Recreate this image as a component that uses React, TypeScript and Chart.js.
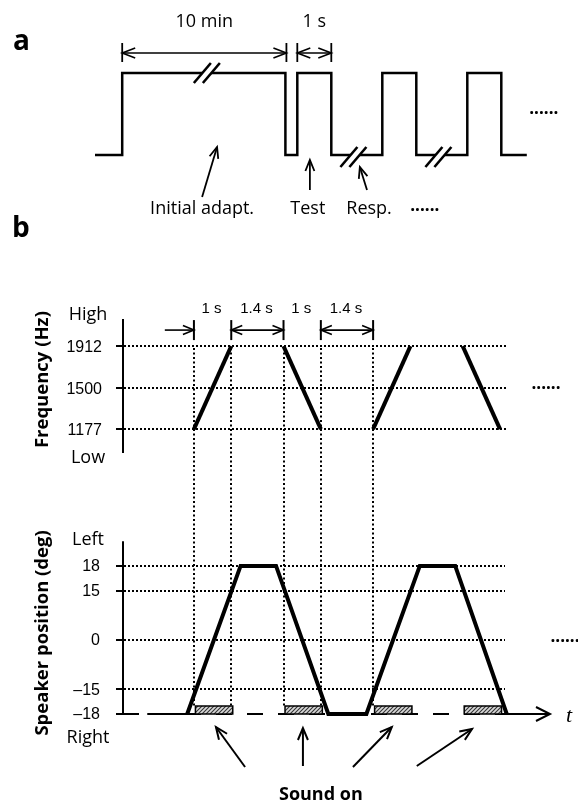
import React, { useEffect, useRef } from 'react';
import { Chart, registerables, LinearScale } from 'chart.js';

Chart.register(...registerables);

// ---------------- Panel a: protocol (schematic time units, test tone = 1 s) ----------------
const adaptTimes = [0, 0.8, 5.6, 5.95, 6.95, 8.45, 9.45, 10.95, 11.95, 12.7];
const adaptLevels = [0, 1, 0, 1, 0, 1, 0, 1, 0, 0];
const adaptDimStart = [0.8, 5.95];
const adaptDimEnd = [5.63, 6.95];
const adaptDimLabels = ['10 min', '1 s'];
const adaptTopBreaks = [3.29];
const adaptBaseBreaks = [7.6, 10.1];
const adaptLabels = ['Initial adapt.', 'Test', 'Resp.', '......'];
const adaptLabelTimes = [3.15, 6.26, 8.06, 9.7];

// ---------------- Panel b: frequency sweeps & speaker motion (time in s) ----------------
const freqTicks = [1912, 1500, 1177];
const freqAxisRange = [1023, 2240];
const sweepStart = [0, 2.4, 4.8, 7.2];
const sweepEnd = [1, 3.4, 5.8, 8.2];
const sweepFromHz = [1177, 1912, 1177, 1912];
const sweepToHz = [1912, 1177, 1912, 1177];

const posTicks = [18, 15, 0, -15, -18];
const posTickLabels = ['18', '15', '0', '\u201315', '\u201318'];
const posAxisTop = 21;
const speakerTimes = [-0.18, 1.25, 2.2, 3.6, 4.62, 6.05, 7.0, 8.38, 8.85];
const speakerDeg = [-18, 18, 18, -18, -18, 18, 18, -18, -18];

const soundOnStart = [0, 2.4, 4.8, 7.2];
const soundOnEnd = [1, 3.4, 5.8, 8.2];
const guideTimes = [0, 1, 2.4, 3.4, 4.8];
const intervalStart = [0, 1, 2.4, 3.4];
const intervalEnd = [1, 2.4, 3.4, 4.8];
const intervalLabels = ['1 s', '1.4 s', '1 s', '1.4 s'];

// schematic (non-proportional) spacing of the speaker-position axis
const POS_KNOTS = [-18, -15, 0, 15, 18];
const POS_UNITS = [0, 1, 3, 5, 6];

function interp(v: number, xs: number[], ys: number[]) {
  const n = xs.length;
  let i = 0;
  if (v <= xs[0]) i = 0;
  else if (v >= xs[n - 1]) i = n - 2;
  else while (v > xs[i + 1]) i++;
  return ys[i] + ((v - xs[i]) * (ys[i + 1] - ys[i])) / (xs[i + 1] - xs[i]);
}
const warp = (v: number) => interp(v, POS_KNOTS, POS_UNITS);
const unwarp = (u: number) => interp(u, POS_UNITS, POS_KNOTS);

class WarpScale extends (LinearScale as any) {
  static id = 'warp';
  static defaults = (LinearScale as any).defaults;
  getPixelForValue(value: any) {
    if (value === null || value === undefined || isNaN(value)) return NaN;
    return this.getPixelForDecimal((warp(value) - this.min) / (this.max - this.min));
  }
  getValueForPixel(pixel: number) {
    return unwarp(this.min + this.getDecimalForPixel(pixel) * (this.max - this.min));
  }
}
Chart.register(WarpScale as any);

// ---------------- fonts ----------------
const F_LETTER = 'bold 28px "Open Sans"';
const F_LABEL = '18px "Open Sans"';
const F_DOTS = 'bold 17px "Open Sans"';
const F_WORD = '18px "Open Sans"';
const F_TICK = '16px "Liberation Sans"';
const F_DIM = '15px "Liberation Sans"';
const F_TITLE = 'bold 18.5px "Open Sans"';
const F_SOUND = 'bold 18px "Open Sans"';
const F_T = 'italic 22px "Liberation Serif"';

// ---------------- drawing helpers ----------------
function seg(ctx: any, x1: number, y1: number, x2: number, y2: number, w = 2, dash: number[] = []) {
  ctx.save();
  ctx.beginPath();
  ctx.setLineDash(dash);
  ctx.lineWidth = w;
  ctx.strokeStyle = '#000';
  ctx.lineCap = 'butt';
  ctx.moveTo(x1, y1);
  ctx.lineTo(x2, y2);
  ctx.stroke();
  ctx.restore();
}
function head(ctx: any, tx: number, ty: number, fx: number, fy: number, len = 10, half = 4, w = 1.6) {
  const a = Math.atan2(ty - fy, tx - fx);
  const bx = tx - len * Math.cos(a), by = ty - len * Math.sin(a);
  const nx = -Math.sin(a) * half, ny = Math.cos(a) * half;
  ctx.save();
  ctx.beginPath();
  ctx.setLineDash([]);
  ctx.lineWidth = w;
  ctx.strokeStyle = '#000';
  ctx.lineJoin = 'miter';
  ctx.moveTo(bx + nx, by + ny);
  ctx.lineTo(tx, ty);
  ctx.lineTo(bx - nx, by - ny);
  ctx.stroke();
  ctx.restore();
}
function arrow(ctx: any, x1: number, y1: number, x2: number, y2: number, w = 1.8, len = 11, half = 5) {
  seg(ctx, x1, y1, x2, y2, w);
  head(ctx, x2, y2, x1, y1, len, half, w);
}
function txt(ctx: any, s: string, x: number, y: number, font: string, align = 'center', baseline = 'alphabetic') {
  ctx.save();
  ctx.font = font;
  ctx.fillStyle = '#000';
  ctx.textAlign = align;
  ctx.textBaseline = baseline;
  ctx.fillText(s, x, y);
  ctx.restore();
}
function vtxt(ctx: any, s: string, x: number, y: number, font: string) {
  ctx.save();
  ctx.translate(x, y);
  ctx.rotate(-Math.PI / 2);
  ctx.font = font;
  ctx.fillStyle = '#000';
  ctx.textAlign = 'center';
  ctx.textBaseline = 'middle';
  ctx.fillText(s, 0, 0);
  ctx.restore();
}
function brk(ctx: any, cx: number, cy: number) {
  const hx = 8.5, hy = 10, off = 4.5;
  ctx.save();
  ctx.fillStyle = '#fff';
  ctx.beginPath();
  ctx.moveTo(cx - off - hx, cy + hy);
  ctx.lineTo(cx - off + hx, cy - hy);
  ctx.lineTo(cx + off + hx, cy - hy);
  ctx.lineTo(cx + off - hx, cy + hy);
  ctx.closePath();
  ctx.fill();
  ctx.restore();
  seg(ctx, cx - off - hx, cy + hy, cx - off + hx, cy - hy, 2.6);
  seg(ctx, cx + off - hx, cy + hy, cx + off + hx, cy - hy, 2.6);
}
let hatch: any = null;
function getHatch(ctx: any) {
  if (hatch) return hatch;
  const c = document.createElement('canvas');
  c.width = 4;
  c.height = 4;
  const g = c.getContext('2d') as any;
  g.fillStyle = '#d8d8d8';
  g.fillRect(0, 0, 4, 4);
  g.strokeStyle = '#333';
  g.lineWidth = 1.1;
  g.beginPath();
  g.moveTo(0, 4); g.lineTo(4, 0);
  g.moveTo(-1, 1); g.lineTo(1, -1);
  g.moveTo(3, 5); g.lineTo(5, 3);
  g.stroke();
  hatch = ctx.createPattern(c, 'repeat');
  return hatch;
}

// ---------------- panel a plugin ----------------
const panelAPlugin = {
  id: 'panelA',
  afterDatasetsDraw(chart: any) {
    const ctx = chart.ctx;
    const X = (t: number) => chart.scales.x.getPixelForValue(t);
    const Y = (l: number) => chart.scales.y.getPixelForValue(l);
    const top = Y(1), base = Y(0);
    txt(ctx, 'a', 13, top - 23, F_LETTER, 'left');

    adaptDimStart.forEach((t0, i) => {
      const x0 = X(t0), x1 = X(adaptDimEnd[i]), dy = top - 20;
      seg(ctx, x0, top - 30, x0, top - 11, 1.8);
      seg(ctx, x1, top - 30, x1, top - 11, 1.8);
      seg(ctx, x0, dy, x1, dy, 1.5);
      head(ctx, x0, dy, x1, dy, 13, 5, 1.6);
      head(ctx, x1, dy, x0, dy, 13, 5, 1.6);
      txt(ctx, adaptDimLabels[i], (x0 + x1) / 2, top - 46, F_LABEL);
    });

    adaptTopBreaks.forEach((t) => brk(ctx, X(t), top));
    adaptBaseBreaks.forEach((t) => brk(ctx, X(t), base + 2));

    // right-hand continuation dots
    txt(ctx, '......', X(13.2), Y(0.5), F_DOTS);

    // labels and pointers
    adaptLabels.forEach((s, i) => {
      if (s === '......') txt(ctx, s, X(adaptLabelTimes[i]), base + 56, F_DOTS);
      else txt(ctx, s, X(adaptLabelTimes[i]), base + 59, F_LABEL);
    });
    arrow(ctx, X(3.15), base + 42, X(3.59), base - 8, 1.8, 11, 4.5);
    arrow(ctx, X(6.32), base + 35, X(6.32), base + 5, 1.8, 11, 4.5);
    arrow(ctx, X(8.0), base + 35, X(7.79), base + 12, 1.8, 11, 4.5);
  },
};

// ---------------- panel b plugin ----------------
const panelBPlugin = {
  id: 'panelB',
  beforeDatasetsDraw(chart: any) {
    const ctx = chart.ctx;
    const { left, right } = chart.chartArea;
    const X = (t: number) => chart.scales.x.getPixelForValue(t);
    const YF = (f: number) => chart.scales.yf.getPixelForValue(f);
    const YP = (d: number) => chart.scales.yp.getPixelForValue(d);
    const baseY = YP(-18);
    const barH = 8;
    const R = Math.round;

    // dotted reference lines
    freqTicks.forEach((f) => {
      const y = R(YF(f));
      seg(ctx, left + 1, y, right, y, 2, [2, 2]);
      seg(ctx, left - 7, y, left, y, 2);
    });
    posTicks.forEach((d) => {
      const y = R(YP(d));
      if (d !== -18) seg(ctx, left + 1, y, right - 1, y, 2, [2, 2]);
      seg(ctx, left - 7, y, left, y, 2);
    });
    guideTimes.forEach((t) => {
      const x = R(X(t));
      seg(ctx, x, R(YF(1912)) + 2, x, baseY - barH, 2, [2, 2.5]);
    });

    // axes
    seg(ctx, left, YF(freqAxisRange[1]), left, YF(freqAxisRange[0]), 2);
    seg(ctx, left, YP(posAxisTop), left, baseY + 1, 2);

    // time axis
    seg(ctx, left, baseY, right + 44, baseY, 2, [16, 15]);
    seg(ctx, X(-1.25), baseY, X(-0.18), baseY, 2);
    seg(ctx, X(8.38), baseY, right + 43, baseY, 2);
    head(ctx, right + 44, baseY, left, baseY, 14, 7, 2);

    // sound-on bars
    soundOnStart.forEach((t0, i) => {
      const x0 = X(t0) + 1.5, x1 = X(soundOnEnd[i]) + 1.5;
      ctx.save();
      ctx.fillStyle = getHatch(ctx);
      ctx.fillRect(x0, baseY - barH, x1 - x0, barH);
      ctx.lineWidth = 1.5;
      ctx.strokeStyle = '#000';
      ctx.strokeRect(x0, baseY - barH, x1 - x0, barH);
      ctx.restore();
    });
  },
  afterDatasetsDraw(chart: any) {
    const ctx = chart.ctx;
    const { left, right, top } = chart.chartArea;
    const X = (t: number) => chart.scales.x.getPixelForValue(t);
    const YF = (f: number) => chart.scales.yf.getPixelForValue(f);
    const YP = (d: number) => chart.scales.yp.getPixelForValue(d);
    const baseY = YP(-18);

    txt(ctx, 'b', 12, top - 82, F_LETTER, 'left');

    // frequency axis text
    txt(ctx, 'High', left - 35, YF(freqAxisRange[1]) + 1, F_WORD);
    txt(ctx, 'Low', left - 35, YF(freqAxisRange[0]) + 10, F_WORD);
    freqTicks.forEach((f) => txt(ctx, String(f), left - 21, YF(f) + 2, F_TICK, 'right', 'middle'));
    vtxt(ctx, 'Frequency (Hz)', 43, YF(1500) - 8, F_TITLE);

    // position axis text
    txt(ctx, 'Left', left - 35, YP(posAxisTop) + 4, F_WORD);
    txt(ctx, 'Right', left - 35, baseY + 29, F_WORD);
    posTicks.forEach((d, i) => txt(ctx, posTickLabels[i], left - 23, YP(d) + 1, F_TICK, 'right', 'middle'));
    vtxt(ctx, 'Speaker position (deg)', 43, YP(0) - 7, F_TITLE);

    // interval dimensions
    const dimY = YF(1912) - 16;
    guideTimes.forEach((t) => seg(ctx, X(t), YF(1912) - 26, X(t), YF(1912) - 6, 2));
    arrow(ctx, X(-0.78), dimY, X(0), dimY, 1.6, 11, 4.5);
    [[1, 2.4], [3.4, 4.8]].forEach(([a, b]) => {
      seg(ctx, X(a), dimY, X(b), dimY, 1.6);
      head(ctx, X(a), dimY, X(b), dimY, 11, 4.5, 1.6);
      head(ctx, X(b), dimY, X(a), dimY, 11, 4.5, 1.6);
    });
    intervalLabels.forEach((s, i) => txt(ctx, s, X((intervalStart[i] + intervalEnd[i]) / 2) - 1, YF(1912) - 33, F_DIM));

    // continuation dots
    txt(ctx, '......', right + 40, YF(1500) + 1, F_DOTS);
    txt(ctx, '......', right + 59, YP(0) + 2, F_DOTS);

    // time label
    txt(ctx, 't', right + 63, baseY + 8, F_T);

    // sound-on pointers
    arrow(ctx, X(1.37), baseY + 53, X(0.59), baseY + 13, 2, 12, 5);
    arrow(ctx, X(2.92), baseY + 52, X(2.92), baseY + 14, 2, 12, 5);
    arrow(ctx, X(4.26), baseY + 53, X(5.3), baseY + 13, 2, 12, 5);
    arrow(ctx, X(5.97), baseY + 52, X(7.45), baseY + 15, 2, 12, 5);
    txt(ctx, 'Sound on', X(3.4), baseY + 86, F_SOUND);
  },
};

export default function App() {
  const refA = useRef<HTMLCanvasElement>(null);
  const refB = useRef<HTMLCanvasElement>(null);

  useEffect(() => {
    document.body.style.margin = '0';
    const chartA = new Chart(refA.current as any, {
      type: 'line',
      data: {
        datasets: [
          {
            data: adaptTimes.map((t, i) => ({ x: t, y: adaptLevels[i] })),
            stepped: true,
            borderColor: '#000',
            borderWidth: 2.5,
            pointRadius: 0,
            fill: false,
            clip: false,
            borderJoinStyle: 'miter',
            borderCapStyle: 'butt',
          } as any,
        ],
      },
      options: {
        animation: false,
        responsive: false,
        events: [],
        layout: { padding: { left: 95, right: 7, top: 73, bottom: 802 - 155 } },
        scales: {
          x: { type: 'linear', min: 0, max: 14, display: false },
          y: { type: 'linear', min: 0, max: 1, display: false },
        },
        plugins: { legend: { display: false }, tooltip: { enabled: false } },
      } as any,
      plugins: [panelAPlugin],
    });

    const sweepSets = sweepStart.map((t0, i) => ({
      data: [
        { x: t0, y: sweepFromHz[i] },
        { x: sweepEnd[i], y: sweepToHz[i] },
      ],
      yAxisID: 'yf',
      borderColor: '#000',
      borderWidth: 4,
      pointRadius: 0,
      fill: false,
      clip: false,
      borderCapStyle: 'butt',
    }));

    const chartB = new Chart(refB.current as any, {
      type: 'line',
      data: {
        datasets: [
          ...sweepSets,
          {
            data: speakerTimes.map((t, i) => ({ x: t, y: speakerDeg[i] })),
            yAxisID: 'yp',
            borderColor: '#000',
            borderWidth: 4,
            pointRadius: 0,
            fill: false,
            clip: false,
            borderJoinStyle: 'miter',
            borderCapStyle: 'butt',
          },
        ] as any,
      },
      options: {
        animation: false,
        responsive: false,
        events: [],
        layout: { padding: { left: 123, right: 72, top: 319, bottom: 88 } },
        scales: {
          x: { type: 'linear', min: -1.9, max: 8.36, display: false, bounds: 'data' },
          yf: { type: 'logarithmic', min: 222.5, max: 2240, display: false, bounds: 'data' },
          yp: { type: 'warp', min: 0, max: 16, display: false, bounds: 'data' },
        },
        plugins: { legend: { display: false }, tooltip: { enabled: false } },
      } as any,
      plugins: [panelBPlugin],
    });

    return () => {
      chartA.destroy();
      chartB.destroy();
    };
  }, []);

  return (
    <div style={{ position: 'relative', width: 578, height: 802, background: '#fff', overflow: 'hidden' }}>
      <canvas ref={refA} width={578} height={802} style={{ position: 'absolute', left: 0, top: 0 }} />
      <canvas ref={refB} width={578} height={802} style={{ position: 'absolute', left: 0, top: 0 }} />
    </div>
  );
}
